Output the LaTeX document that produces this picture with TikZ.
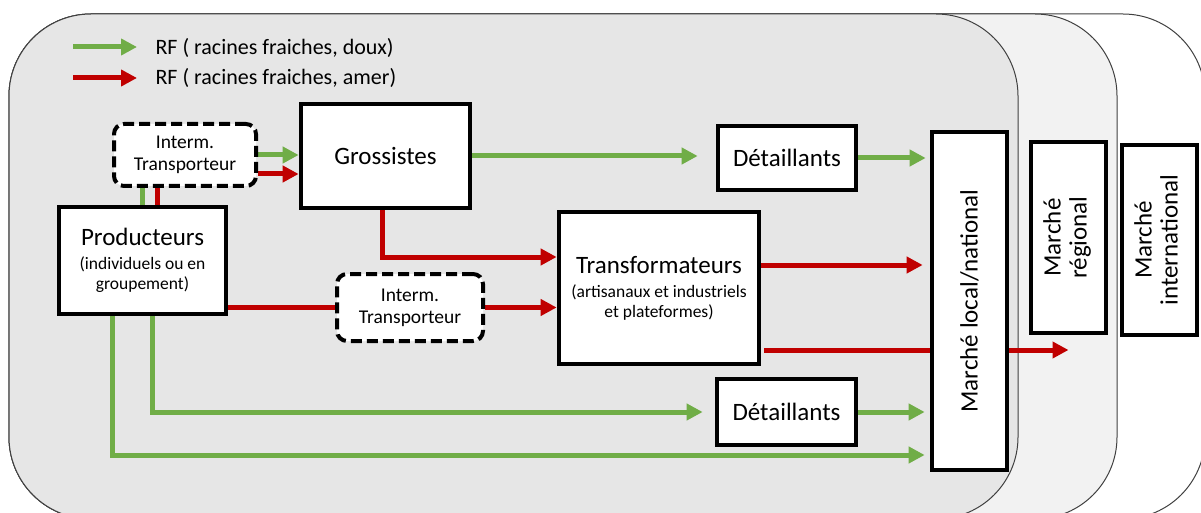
\documentclass[tikz,border=0pt]{standalone}
\usepackage{fontspec}
\setmainfont{Carlito}
\usepackage{graphicx}
\usetikzlibrary{arrows.meta,calc}
\definecolor{rfgreen}{HTML}{70AD47}
\definecolor{rfred}{HTML}{C00000}
\definecolor{panelA}{HTML}{E6E6E6}
\definecolor{panelB}{HTML}{F2F2F2}
\definecolor{panelline}{HTML}{404040}
\newcommand{\subtxt}{\fontsize{17.5}{20}\selectfont}
\pgfdeclarelayer{panels}
\pgfdeclarelayer{flows}
\pgfsetlayers{panels,flows,main}
\begin{document}
\begin{tikzpicture}[x=1pt,y=-1pt,
  box/.style={draw=black,line width=4.7pt,fill=white,inner sep=2pt,align=center,
    font=\fontsize{25}{28}\selectfont},
  carrier/.style={draw=black,line width=4pt,dash pattern=on 11pt off 5pt,
    rounded corners=10pt,fill=white,align=center,font=\fontsize{19.5}{22}\selectfont},
  panel/.style={draw=panelline,line width=1pt,rounded corners=82pt},
  flow/.style={line width=5pt},
  gline/.style={flow,draw=rfgreen},
  rline/.style={flow,draw=rfred},
  gflow/.style={gline,-{Triangle[length=16pt,width=16pt]}},
  rflow/.style={rline,-{Triangle[length=16pt,width=16pt]}},
  legtext/.style={anchor=west,font=\fontsize{22}{26}\selectfont}
]
\useasboundingbox (0,0) rectangle (1201,513);

% market areas, nested from international to local
\begin{pgfonlayer}{panels}
  \clip (0,0) rectangle (1201,513);
  \draw[panel,fill=white]  (9,14) rectangle (1205,519);
  \draw[panel,fill=panelB] (9,14) rectangle (1117,519);
  \draw[panel,fill=panelA] (9,14) rectangle (1018,519);
\end{pgfonlayer}

% legend
\coordinate (lgA) at (73,47);
\coordinate (lgB) at (137,47);
\coordinate (lgC) at (73,78);
\coordinate (lgD) at (137,78);
\node[legtext] (leg1) at (152,48) {RF ( racines fraiches, doux)};
\node[legtext] (leg2) at (152,78) {RF ( racines fraiches, amer)};

% actors
\node[carrier,minimum width=142pt,minimum height=62pt] (it1) at (185,155) {Interm.\\Transporteur};
\node[box,minimum width=169pt,minimum height=104pt] (gro) at (385.5,156) {Grossistes};
\node[box,minimum width=167pt,minimum height=107pt] (prod) at (142.5,260.5)
  {Producteurs\\[-4pt]\subtxt (individuels ou en\\[-8pt]\subtxt groupement)};
\node[carrier,minimum width=146pt,minimum height=67pt] (it2) at (410,307.5) {Interm.\\Transporteur};
\node[box,minimum width=200pt,minimum height=152pt] (tra) at (659,288)
  {Transformateurs\\[-4pt]\subtxt (artisanaux et industriels\\[-8pt]\subtxt et plateformes)};
\node[box,minimum width=138pt,minimum height=64pt] (det1) at (787,158) {Détaillants};
\node[box,minimum width=139pt,minimum height=66pt] (det2) at (786.5,412) {Détaillants};

% markets
\node[box,minimum width=75pt,minimum height=338pt] (loc) at (969.5,301)
  {\rotatebox{90}{Marché local/national}};
\node[box,minimum width=75pt,minimum height=191pt] (reg) at (1068.5,237.5)
  {\rotatebox{90}{\fontsize{25}{26}\selectfont\begin{tabular}{@{}c@{}}Marché\\régional\end{tabular}}};
\node[box,minimum width=75pt,minimum height=190pt] (int) at (1159.5,240)
  {\rotatebox{90}{\fontsize{25}{26}\selectfont\begin{tabular}{@{}c@{}}Marché\\international\end{tabular}}};

% flows
\begin{pgfonlayer}{flows}
  \draw[gflow] (lgA) -- (lgB);
  \draw[rflow] (lgC) -- (lgD);

  % producers to the first carrier
  \coordinate (p1) at ($(prod.north)+(15,0)$);
  \draw[gline] (prod.north) -- (prod.north |- it1.south);
  \draw[rline] (p1) -- (p1 |- it1.south);

  % first carrier to wholesalers
  \coordinate (c1) at ($(it1.east)+(0,19)$);
  \draw[gflow] (it1.east) -- (it1.east -| gro.west);
  \draw[rflow] (c1) -- (c1 -| gro.west);

  % wholesalers
  \draw[gflow] (gro.east) -- ($(gro.east -| det1.west)+(-18,0)$);
  \coordinate (g1) at ($(gro.south)+(-3,0)$);
  \draw[rflow] (g1) |- ($(tra.west)+(0,-31)$);

  % producers to processors via the second carrier
  \draw[rline] (prod.east |- it2.west) -- (it2.west);
  \draw[rflow] (it2.east) -- (it2.east -| tra.west);

  % processors to markets
  \coordinate (t1) at ($(tra.east)+(0,-23)$);
  \draw[rflow] (t1) -- ($(t1 -| loc.west)+(-7,0)$);
  \coordinate (t2) at ($(tra.east)+(3,62)$);
  \draw[rflow] (t2) -- (t2 -| reg.center);

  % retailers to the local market
  \draw[gflow] (det1.east) -- ($(det1.east -| loc.west)+(-4,0)$);
  \draw[gflow] (det2.east) -- ($(det2.east -| loc.west)+(-5,0)$);

  % producers' direct green flows
  \coordinate (p2) at ($(prod.south)+(9.5,0)$);
  \draw[gflow] (p2) |- ($(det2.west)+(-12,0)$);
  \coordinate (p3) at ($(prod.south)+(-30.5,0)$);
  \coordinate (p3e) at ($(loc.west)+(-5,154)$);
  \draw[gflow] (p3) |- (p3e);
\end{pgfonlayer}
\end{tikzpicture}
\end{document}
